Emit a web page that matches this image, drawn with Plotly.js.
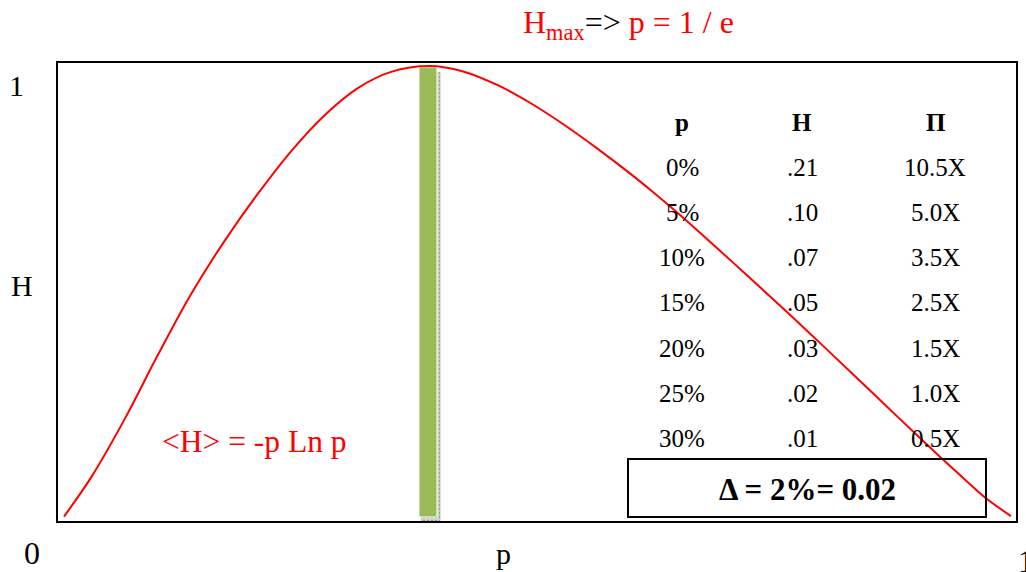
<!DOCTYPE html>
<html>
<head>
<meta charset="utf-8">
<script src="https://cdn.plot.ly/plotly-3.0.1.min.js"></script>
<style>
    html, body { margin: 0; padding: 0; background: #fff; }
    #chart { width: 1026px; height: 572px; }
</style>
</head>
<body>
<div id="chart"></div>
<script>
// Curve: p on the x axis, H on the y axis (peak = 1)
const curveP = [0.001, 0.030, 0.065, 0.100, 0.135, 0.171, 0.206, 0.241, 0.276, 0.311,
    0.346, 0.387, 0.422, 0.458, 0.493, 0.527, 0.563, 0.598, 0.621, 0.643,
    0.679, 0.722, 0.764, 0.799, 0.833, 0.869, 0.904, 0.930, 0.953, 0.974, 1.000];
const curveH = [0.001, 0.089, 0.217, 0.359, 0.494, 0.614, 0.718, 0.812, 0.891, 0.951,
    0.987, 1.000, 0.988, 0.958, 0.918, 0.872, 0.818, 0.762, 0.723, 0.684,
    0.617, 0.535, 0.454, 0.385, 0.317, 0.245, 0.175, 0.124, 0.080, 0.041, 0.002];

// Highlighted bar at the maximum
const peakP = 0.385;
const peakH = 0.998;

// Table in the right half
const tableHeader = ['p', 'H', 'Π'];
const tableP = ['0%', '5%', '10%', '15%', '20%', '25%', '30%'];
const tableH = ['.21', '.10', '.07', '.05', '.03', '.02', '.01'];
const tablePi = ['10.5X', '5.0X', '3.5X', '2.5X', '1.5X', '1.0X', '0.5X'];

const SERIF = 'Liberation Serif, Times New Roman, serif';
const W = 1026, H = 572;
const M = { l: 58, r: 10, t: 63, b: 51 };

// pixel -> paper helpers for the annotations
function px(x) { return (x - M.l) / (W - M.l - M.r); }
function py(y) { return (H - M.b - y) / (H - M.t - M.b); }

function label(text, x, y, size, color, extra) {
    return Object.assign({
        text: text,
        xref: 'paper', yref: 'paper',
        x: px(x), y: py(y),
        xanchor: 'center', yanchor: 'middle',
        showarrow: false,
        font: { family: SERIF, size: size, color: color || 'black' }
    }, extra || {});
}

const annotations = [
    label('H<sub>max</sub><span style="color:black">=&gt;</span> p = 1 / e', 628, 25, 32, 'red'),
    label('&lt;H&gt; = -p Ln p', 254, 441, 31.5, 'red'),
    label('1', 16, 85, 30),
    label('H', 22, 285, 30),
    label('0', 32, 553, 32),
    label('p', 503, 553, 30),
    label('1', 1016, 561, 32, 'black', { xanchor: 'left' }),
    label('<b>Δ = 2%= 0.02</b>', 807, 489, 31)
];

const colX = [682, 802, 935];
tableHeader.forEach((t, i) => {
    annotations.push(label('<b>' + t + '</b>', colX[i], 122, 25));
});
tableP.forEach((t, r) => {
    const y = 167 + r * 45.3;
    annotations.push(label(t, colX[0], y, 25));
    annotations.push(label(tableH[r], colX[1], y, 25));
    annotations.push(label(tablePi[r], colX[2], y, 25));
});

const traces = [
    {
        type: 'bar',
        x: [peakP + 0.0028],
        y: [peakH],
        base: [-0.012],
        width: [0.020],
        marker: {
            color: '#c9cdbd',
            line: { color: '#a9b097', width: 0.5 },
            pattern: { shape: '.', fgcolor: '#8f987c', bgcolor: '#d2d6c6', size: 4, solidity: 0.25 }
        },
        hoverinfo: 'skip'
    },
    {
        type: 'bar',
        x: [peakP],
        y: [peakH],
        width: [0.019],
        marker: { color: '#9bbb59', line: { color: '#ffffff', width: 1 } },
        hoverinfo: 'skip'
    },
    {
        type: 'scatter',
        mode: 'lines',
        x: curveP,
        y: curveH,
        line: { color: '#ff0000', width: 2, shape: 'spline', smoothing: 1 },
        hoverinfo: 'skip'
    }
];

const layout = {
    width: W,
    height: H,
    margin: M,
    paper_bgcolor: '#ffffff',
    plot_bgcolor: '#ffffff',
    showlegend: false,
    barmode: 'overlay',
    xaxis: {
        range: [-0.0053, 1.0053],
        showgrid: false, zeroline: false, showticklabels: false, ticks: '',
        showline: true, mirror: true, linecolor: '#000000', linewidth: 2
    },
    yaxis: {
        range: [-0.0089, 1.0067],
        showgrid: false, zeroline: false, showticklabels: false, ticks: '',
        showline: true, mirror: true, linecolor: '#000000', linewidth: 2
    },
    shapes: [
        {
            type: 'rect', xref: 'paper', yref: 'paper',
            x0: px(628), x1: px(986), y0: py(517), y1: py(459),
            line: { color: '#000000', width: 2 },
            fillcolor: 'rgba(0,0,0,0)'
        }
    ],
    annotations: annotations
};

Plotly.newPlot('chart', traces, layout, { staticPlot: true, displayModeBar: false });
</script>
</body>
</html>
